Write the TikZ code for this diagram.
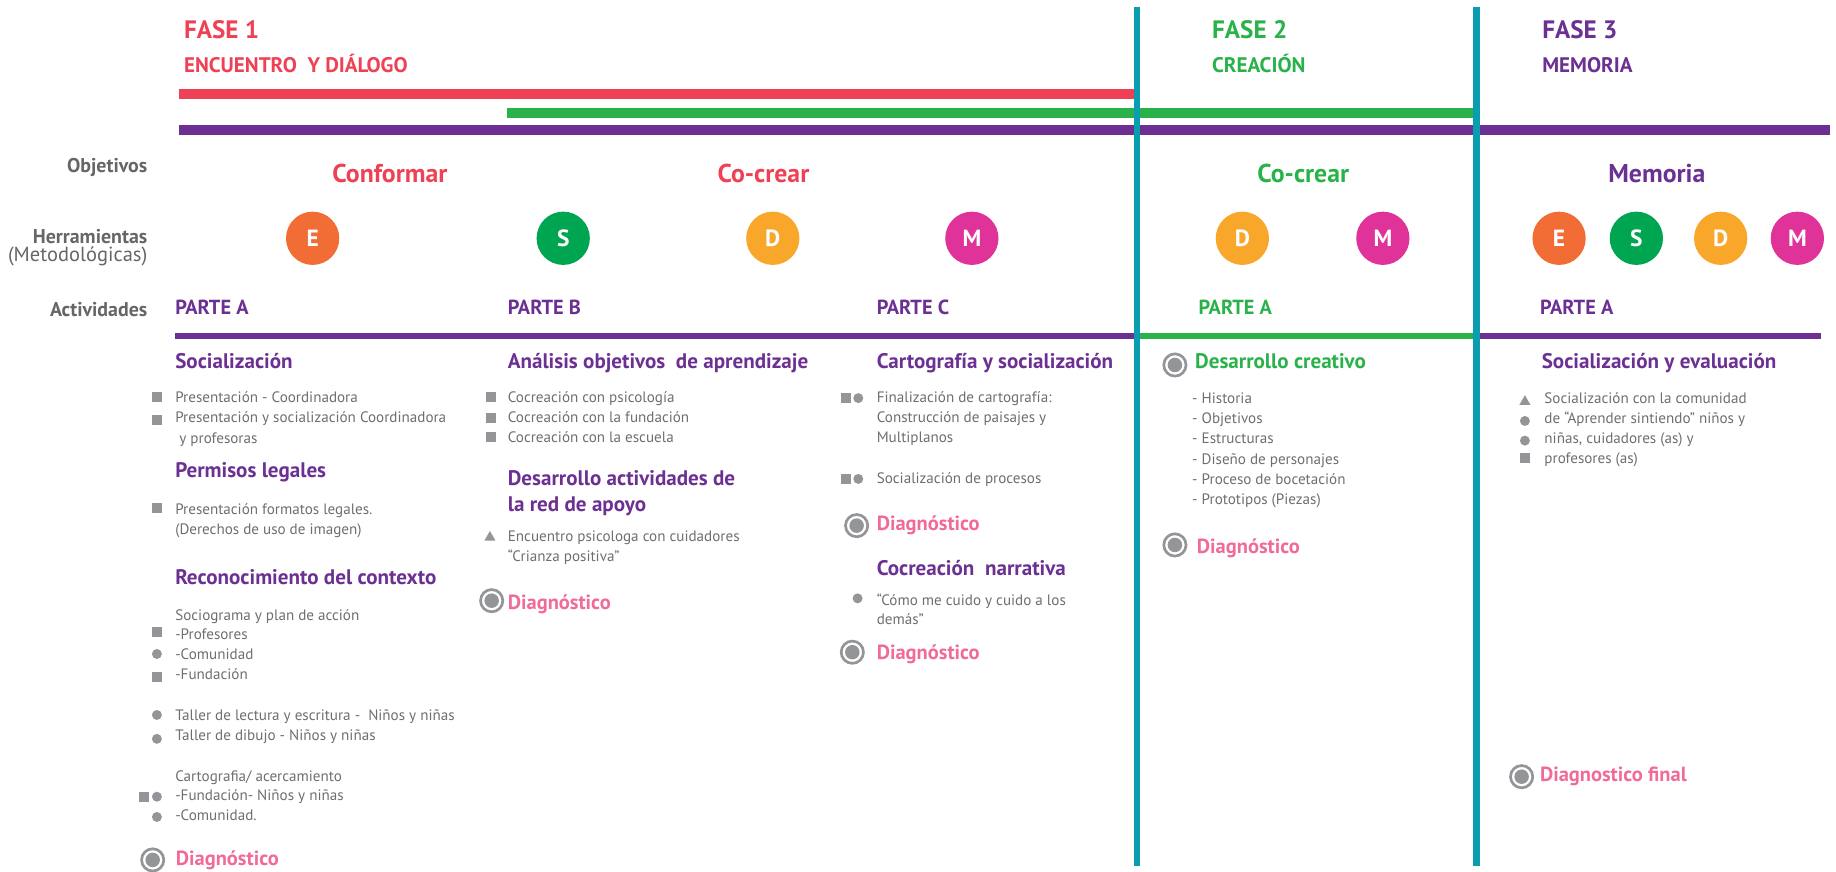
\documentclass[tikz,border=0pt]{standalone}
\usepackage{fontspec}
\setmainfont{PT Sans}
\usepackage{tikz}
\usetikzlibrary{shapes.geometric}

\definecolor{faseRed}{HTML}{EE4155}
\definecolor{faseGreen}{HTML}{2AB24A}
\definecolor{fasePurple}{HTML}{6B3092}
\definecolor{sepTeal}{HTML}{0A9DB0}
\definecolor{toolE}{HTML}{F26C36}
\definecolor{toolS}{HTML}{00A551}
\definecolor{toolD}{HTML}{F9A72B}
\definecolor{toolM}{HTML}{E03399}
\definecolor{diagPink}{HTML}{F06A9A}
\definecolor{bulGray}{HTML}{939598}
\definecolor{txtGray}{HTML}{6D6E70}
\definecolor{lblGray}{HTML}{666666}

\begin{document}
\begin{tikzpicture}[
            x = 1pt, y = -1pt, % one unit = one pixel of the sketch
            fase/.style = {anchor=base west, inner sep=0, font=\bfseries\fontsize{21.5}{21.5}\selectfont},
            sub/.style = {anchor=base west, inner sep=0, font=\bfseries\fontsize{18}{18}\selectfont},
            lbl/.style = {anchor=base east, inner sep=0, text=lblGray, font=\bfseries\fontsize{17}{17}\selectfont},
            obj/.style = {anchor=base, inner sep=0, font=\bfseries\fontsize{22}{22}\selectfont},
            tool/.style = {circle, inner sep=0, minimum size=45.5pt, text=white, font=\bfseries\fontsize{20}{20}\selectfont},
            parte/.style = {anchor=base west, inner sep=0, font=\bfseries\fontsize{17.4}{17.4}\selectfont},
            head/.style = {anchor=base west, inner sep=0, text=fasePurple, font=\bfseries\fontsize{18}{18}\selectfont},
            body/.style = {anchor=base west, inner sep=0, text=txtGray, font=\fontsize{12.9}{17}\selectfont},
            diag/.style = {anchor=base west, inner sep=0, text=diagPink, font=\bfseries\fontsize{17.5}{17.5}\selectfont},
            ring/.style = {circle, draw=bulGray, line width=2.3pt, minimum size=19pt, inner sep=0,
                           path picture={\fill[bulGray] (path picture bounding box.center) circle (6.2pt);}},
            bsq/.style = {rectangle, fill=bulGray, minimum size=8.5pt, inner sep=0},
            bdot/.style = {circle, fill=bulGray, minimum size=8.5pt, inner sep=0},
            btri/.style = {regular polygon, regular polygon sides=3, fill=bulGray, minimum size=11pt, inner sep=0}
        ]
\useasboundingbox (0,0) rectangle (1568,744);

% phase titles
\node[fase, text=faseRed] (f1) at (157,33) {FASE 1};
\node[sub, text=faseRed] (f1s) at (157,62) {ENCUENTRO\ \ Y DIÁLOGO};
\node[fase, text=faseGreen] (f2) at (1035,33) {FASE 2};
\node[sub, text=faseGreen] (f2s) at (1035,62) {CREACIÓN};
\node[fase, text=fasePurple] (f3) at (1317,33) {FASE 3};
\node[sub, text=fasePurple] (f3s) at (1317,62) {MEMORIA};

% phase bars
\draw[faseRed, line width=8.5pt] (153,80) -- (969,80);
\draw[faseGreen, line width=8.5pt] (433,96.3) -- (1258,96.3);
\draw[fasePurple, line width=8.5pt] (153,111) -- (1563,111);

% row labels
\node[lbl] (lobj) at (126,147) {Objetivos};
\node[lbl] (lher) at (126,208) {Herramientas};
\node[lbl, font=\fontsize{17.5}{17.5}\selectfont] (lmet) at (126,223) {(Metodológicas)};
\node[lbl] (lact) at (126,270) {Actividades};

% objectives
\node[obj, text=faseRed] (o1) at (333,155.7) {Conformar};
\node[obj, text=faseRed] (o2) at (652,155.7) {Co-crear};
\node[obj, text=faseGreen] (o3) at (1113,155.7) {Co-crear};
\node[obj, text=fasePurple] (o4) at (1415,155.7) {Memoria};

% tools
\node[tool, fill=toolE] (t1) at (267,203.5) {E};
\node[tool, fill=toolS] (t2) at (481,203.5) {S};
\node[tool, fill=toolD] (t3) at (660,203.5) {D};
\node[tool, fill=toolM] (t4) at (830,203.5) {M};
\node[tool, fill=toolD] (t5) at (1061,203.5) {D};
\node[tool, fill=toolM] (t6) at (1181,203.5) {M};
\node[tool, fill=toolE] (t7) at (1331.5,203.5) {E};
\node[tool, fill=toolS] (t8) at (1397.5,203.5) {S};
\node[tool, fill=toolD] (t9) at (1469.5,203.5) {D};
\node[tool, fill=toolM] (t10) at (1535,203.5) {M};

% parts
\node[parte, text=fasePurple] (pA) at (149.5,268.4) {PARTE A};
\node[parte, text=fasePurple] (pB) at (433.5,268.4) {PARTE B};
\node[parte, text=fasePurple] (pC) at (748.6,268.4) {PARTE C};
\node[parte, text=faseGreen] (p2A) at (1023.4,268.4) {PARTE A};
\node[parte, text=fasePurple] (p3A) at (1315,268.4) {PARTE A};
\draw[fasePurple, line width=5pt] (149.5,287) -- (971,287);
\draw[faseGreen, line width=5pt] (971,287) -- (1261,287);
\draw[fasePurple, line width=5pt] (1261,287) -- (1555,287);

% parte A
\node[head] (a1) at (149.5,314.5) {Socialización};
\node[bsq] (a1b1) at (134,339.3) {};
\node[body] (a1t1) at (149.5,343.6) {Presentación - Coordinadora};
\node[bsq] (a1b2) at (134,358.7) {};
\node[body] (a1t2) at (149.5,360.7) {Presentación y socialización Coordinadora};
\node[body] (a1t3) at (153,378.6) {y profesoras};
\node[head] (a2) at (149.5,407.6) {Permisos legales};
\node[bsq] (a2b1) at (134,434) {};
\node[body] (a2t1) at (149.5,439) {Presentación formatos legales.};
\node[body] (a2t2) at (149.5,456.3) {(Derechos de uso de imagen)};
\node[head] (a3) at (149.5,499) {Reconocimiento del contexto};
\node[body] (a3t1) at (149.5,529.5) {Sociograma y plan de acción};
\node[bsq] (a3b1) at (134,539.4) {};
\node[body] (a3t2) at (149.5,546.5) {-Profesores};
\node[bdot] (a3b2) at (134,558.5) {};
\node[body] (a3t3) at (149.5,563.6) {-Comunidad};
\node[bsq] (a3b3) at (134,577.9) {};
\node[body] (a3t4) at (149.5,580.7) {-Fundación};
\node[bdot] (a3b4) at (134,610.6) {};
\node[body] (a3t5) at (149.5,614.9) {Taller de lectura y escritura -\ \ Niños y niñas};
\node[bdot] (a3b5) at (134,631) {};
\node[body] (a3t6) at (149.5,632.8) {Taller de dibujo - Niños y niñas};
\node[body] (a3t7) at (149.5,667) {Cartografia/ acercamiento};
\node[bsq] (a3b6) at (123,680.4) {};
\node[bdot] (a3b7) at (134,680.4) {};
\node[body] (a3t8) at (149.5,684) {-Fundación- Niños y niñas};
\node[bdot] (a3b8) at (134,697.7) {};
\node[body] (a3t9) at (149.5,701) {-Comunidad.};
\node[ring] (aR) at (130.4,734.4) {};
\node[diag] (aD) at (150,739.5) {Diagnóstico};

% parte B
\node[head] (b1) at (433.5,314.5) {Análisis objetivos\ \ de aprendizaje};
\node[bsq] (b1b1) at (419.3,339.3) {};
\node[body] (b1t1) at (433.5,343.6) {Cocreación con psicología};
\node[bsq] (b1b2) at (419.3,356.7) {};
\node[body] (b1t2) at (433.5,360.7) {Cocreación con la fundación};
\node[bsq] (b1b3) at (419.3,373.2) {};
\node[body] (b1t3) at (433.5,378) {Cocreación con la escuela};
\node[head] (b2) at (433.5,414.2) {Desarrollo actividades de};
\node[head] (b2l) at (433.5,437) {la red de apoyo};
\node[btri] (b2b1) at (418.4,459) {};
\node[body] (b2t1) at (433.5,462.6) {Encuentro psicologa con cuidadores};
\node[body] (b2t2) at (433.5,479.7) {“Crianza positiva”};
\node[ring] (bR) at (419.9,513) {};
\node[diag] (bD) at (433.5,520.3) {Diagnóstico};

% parte C
\node[head] (c1) at (748.6,314.5) {Cartografía y socialización};
\node[bsq] (c1b1) at (722.2,340) {};
\node[bdot] (c1b2) at (733,340) {};
\node[body] (c1t1) at (748.6,343.6) {Finalización de cartografía:};
\node[body] (c1t2) at (748.6,360.7) {Construcción de paisajes y};
\node[body] (c1t3) at (748.6,378) {Multiplanos};
\node[bsq] (c1b3) at (722.2,409) {};
\node[bdot] (c1b4) at (733,409) {};
\node[body] (c1t4) at (748.6,412.7) {Socialización de procesos};
\node[ring] (cR1) at (731.6,448.9) {};
\node[diag] (cD1) at (748.6,453.2) {Diagnóstico};
\node[head] (c2) at (748.6,491.6) {Cocreación\ \ narrativa};
\node[bdot] (c2b1) at (732.4,511) {};
\node[body] (c2t1) at (748.6,516.7) {“Cómo me cuido y cuido a los};
\node[body] (c2t2) at (748.6,533.2) {demás”};
\node[ring] (cR2) at (727.9,557) {};
\node[diag] (cD2) at (748.6,563.6) {Diagnóstico};

% fase 2
\node[ring] (dR1) at (1003.4,311.7) {};
\node[head, text=faseGreen] (d1) at (1020.5,314.5) {Desarrollo creativo};
\foreach \t [count=\i from 0] in {Historia, Objetivos, Estructuras, Diseño de personajes, Proceso de bocetación, Prototipos (Piezas)}
    \node[body] (d1t\i) at (1018,344.4+17.3*\i) {- \t};
\node[ring] (dR2) at (1003.4,465.4) {};
\node[diag] (dD) at (1022,472.5) {Diagnóstico};

% fase 3
\node[head] (e1) at (1316.5,314.5) {Socialización y evaluación};
\node[btri] (e1b1) at (1302.3,343) {};
\node[body] (e1t1) at (1318.8,344.4) {Socialización con la comunidad};
\node[bdot] (e1b2) at (1302.3,359.5) {};
\node[body] (e1t2) at (1318.8,361.5) {de “Aprender sintiendo” niños y};
\node[bdot] (e1b3) at (1302.3,376.3) {};
\node[body] (e1t3) at (1318.8,379) {niñas, cuidadores (as) y};
\node[bsq] (e1b4) at (1302.3,391.4) {};
\node[body] (e1t4) at (1318.8,396) {profesores (as)};
\node[ring] (eR) at (1299.5,663.3) {};
\node[diag] (eD) at (1315,667) {Diagnostico final};

% phase separators
\draw[sepTeal, line width=5.4pt] (971,6) -- (971,740);
\draw[sepTeal, line width=5.4pt] (1261,6) -- (1261,740);
\end{tikzpicture}
\end{document}
